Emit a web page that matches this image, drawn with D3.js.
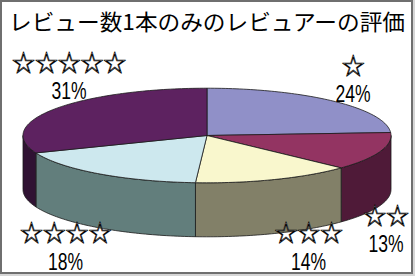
<!DOCTYPE html>
<html><head><meta charset="utf-8">
<script src="https://cdn.jsdelivr.net/npm/d3@7"></script>
<style>html,body{margin:0;padding:0;background:#d6d6d6;}svg{display:block;}</style>
</head><body>
<script>
// ---- data ----
const title = "レビュー数1本のみのレビュアーの評価";
const categories = ["☆", "☆☆", "☆☆☆", "☆☆☆☆", "☆☆☆☆☆"];
const values = [24, 13, 14, 18, 31];
const pctLabels = ["24%", "13%", "14%", "18%", "31%"];

// ---- styles / layout ----
const topColors  = ["#9090c8", "#933462", "#f9f7cd", "#cde8ee", "#5d2260"];
const sideColors = ["#4a4a66", "#4f1a38", "#828068", "#627e7c", "#301233"];
const labelPos = [[353, 80], [386, 230], [308.5, 247.5], [65.5, 247.5], [69, 77]];

const W = 415, H = 276;
const cx = 207, cy = 135.5, rx = 184, ry = 47.3, depth = 54;

const svg = d3.select("body").append("svg").attr("width", W).attr("height", H);
svg.append("rect").attr("x", 1).attr("y", 1).attr("width", 411).attr("height", 272)
  .attr("fill", "#ffffff").attr("stroke", "#6f6f6f").attr("stroke-width", 2);

svg.append("text").attr("x", 207).attr("y", 30).attr("text-anchor", "middle")
  .attr("font-family", "'Noto Sans CJK JP', sans-serif").attr("font-size", 22)
  .attr("textLength", 396).attr("lengthAdjust", "spacingAndGlyphs")
  .attr("fill", "#000").text(title);

const color = d3.scaleOrdinal().domain(categories).range(topColors);
const sideColor = d3.scaleOrdinal().domain(categories).range(sideColors);

const arcs = d3.pie().sort(null).value(d => d)(values);
const pt = (a, dy = 0) => [cx + rx * Math.sin(a), cy + dy - ry * Math.cos(a)];
const line = d3.line();
const sample = (a0, a1, dy) => {
  const n = Math.max(2, Math.ceil(Math.abs(a1 - a0) / 0.02));
  return d3.range(n + 1).map(i => pt(a0 + (a1 - a0) * i / n, dy));
};

const g = svg.append("g");
// side walls (front half only)
arcs.forEach((a, i) => {
  const s = Math.max(a.startAngle, Math.PI / 2), e = Math.min(a.endAngle, 3 * Math.PI / 2);
  if (e <= s) return;
  const pts = sample(s, e, 0).concat(sample(e, s, depth));
  g.append("path").attr("d", line(pts) + "Z")
    .attr("fill", sideColor(categories[i])).attr("stroke", "#1a1a1a").attr("stroke-width", 0.8)
    .attr("stroke-linejoin", "round");
});
// top faces
arcs.forEach((a, i) => {
  const pts = [[cx, cy]].concat(sample(a.startAngle, a.endAngle, 0));
  g.append("path").attr("d", line(pts) + "Z")
    .attr("fill", color(categories[i])).attr("stroke", "#1a1a1a").attr("stroke-width", 0.8)
    .attr("stroke-linejoin", "round");
});

// labels
const lab = svg.selectAll("g.lab").data(arcs).join("g").attr("class", "lab")
  .attr("transform", (d, i) => `translate(${labelPos[i][0]},${labelPos[i][1]})`);
lab.append("text").attr("text-anchor", "middle").attr("y", -6.5)
  .attr("font-family", "'Noto Sans CJK JP', sans-serif").attr("font-size", 23)
  .attr("letter-spacing", -0.2)
  .attr("dx", 0.1)
  .attr("fill", "#fff").attr("stroke", "#000").attr("stroke-width", 0.7)
  .text((d, i) => categories[i]);
lab.append("text").attr("text-anchor", "middle")
  .attr("transform", "translate(0,22) scale(0.73,1)")
  .attr("font-family", "'Liberation Sans', sans-serif").attr("font-size", 24)
  .attr("fill", "#000").text((d, i) => pctLabels[i]);
</script>
</body></html>
